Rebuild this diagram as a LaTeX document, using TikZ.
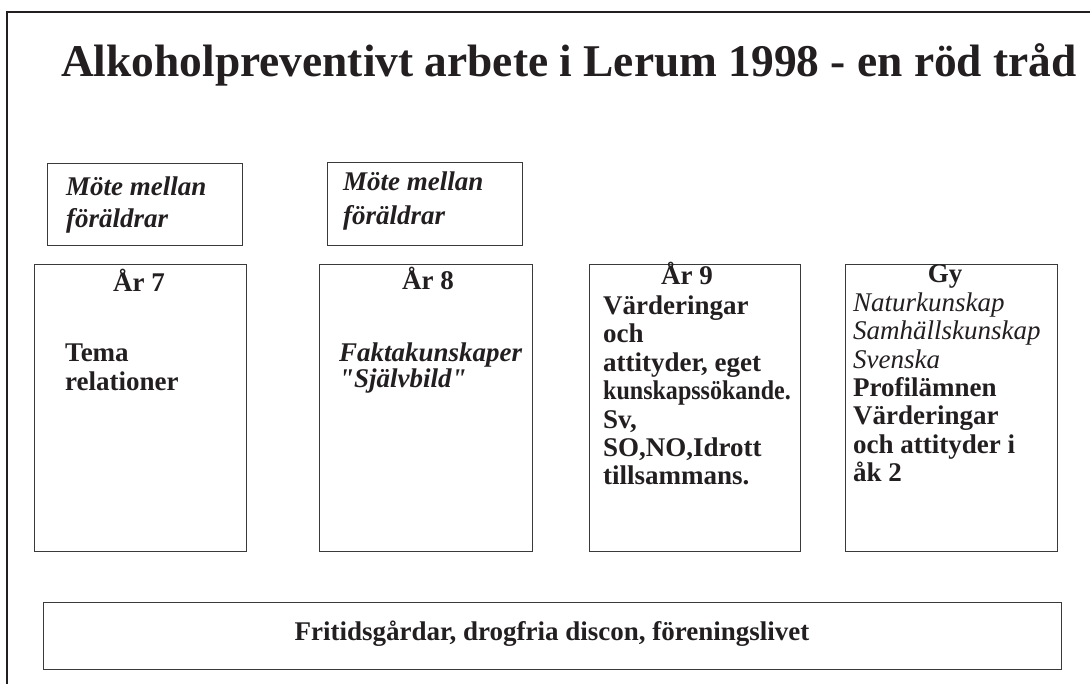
\documentclass[tikz,border=0pt]{standalone}
\usepackage{fontspec}
\usepackage{graphicx}
\setmainfont{Liberation Serif}[Ligatures=TeXOff]
\definecolor{ink}{HTML}{231F20}
\definecolor{edge}{HTML}{3A3A3A}
\begin{document}
\begin{tikzpicture}[x=1pt,y=-1pt,
  box/.style={draw=edge, line width=1.1pt, inner sep=0pt, anchor=north west},
  txt/.style={text=ink, inner sep=0pt, anchor=base west, align=left},
  body/.style={font=\fontsize{27}{28.5}\selectfont\bfseries},
  head/.style={text=ink, inner sep=0pt, anchor=base, font=\fontsize{27}{28.5}\selectfont\bfseries}]
\useasboundingbox (0,0) rectangle (1090,684);
% frame (only top and left visible)
\draw[line width=2pt, ink] (1090,12) -- (7,12) -- (7,684);
% title
\node[txt, font=\fontsize{45.4}{50}\selectfont\bfseries] (title) at (61,77) {Alkoholpreventivt arbete i Lerum 1998 - en röd tråd};
% parent meeting boxes (anchor = baseline of last line)
\node[box, minimum width=195pt, minimum height=82pt] (m1) at (47,163) {};
\node[txt, font=\fontsize{27}{32}\selectfont\bfseries\itshape] (m1t) at (66,228) {Möte mellan\\föräldrar};
\node[box, minimum width=195pt, minimum height=83pt] (m2) at (327,162) {};
\node[txt, font=\fontsize{27}{34}\selectfont\bfseries\itshape] (m2t) at (343,225) {Möte mellan\\föräldrar};
% year boxes
\node[box, minimum width=212pt, minimum height=287pt] (y7) at (34,264) {};
\node[head] (y7h) at (139,292) {År 7};
\node[txt, font=\fontsize{27}{29}\selectfont\bfseries] (y7t) at (65,391) {Tema\\relationer};
\node[box, minimum width=213pt, minimum height=287pt] (y8) at (319,264) {};
\node[head] (y8h) at (428,290) {År 8};
\node[txt, font=\fontsize{27}{26.5}\selectfont\bfseries\itshape] (y8t) at (339,388) {Faktakunskaper\\"Självbild"};
\node[box, minimum width=211pt, minimum height=287pt] (y9) at (589,264) {};
\node[head] (y9h) at (687,285) {År 9};
\node[txt, body] (y9t) at (603,485) {Värderingar\\och\\attityder, eget\\\scalebox{0.89}[1]{kunskapssökande.}\\Sv,\\SO,NO,Idrott\\tillsammans.};
\node[box, minimum width=212pt, minimum height=287pt] (gy) at (845,264) {};
\node[head] (gyh) at (945,283) {Gy};
\node[txt, body] (gyt) at (853,482) {\normalfont\itshape Naturkunskap\\\normalfont\itshape Samhällskunskap\\\normalfont\itshape Svenska\\Profilämnen\\Värderingar\\och attityder i\\åk 2};
% leisure box
\node[box, minimum width=1018pt, minimum height=67pt] (fr) at (43,602) {};
\node[head] (frt) at (552,640) {Fritidsgårdar, drogfria discon, föreningslivet};
\end{tikzpicture}
\end{document}
